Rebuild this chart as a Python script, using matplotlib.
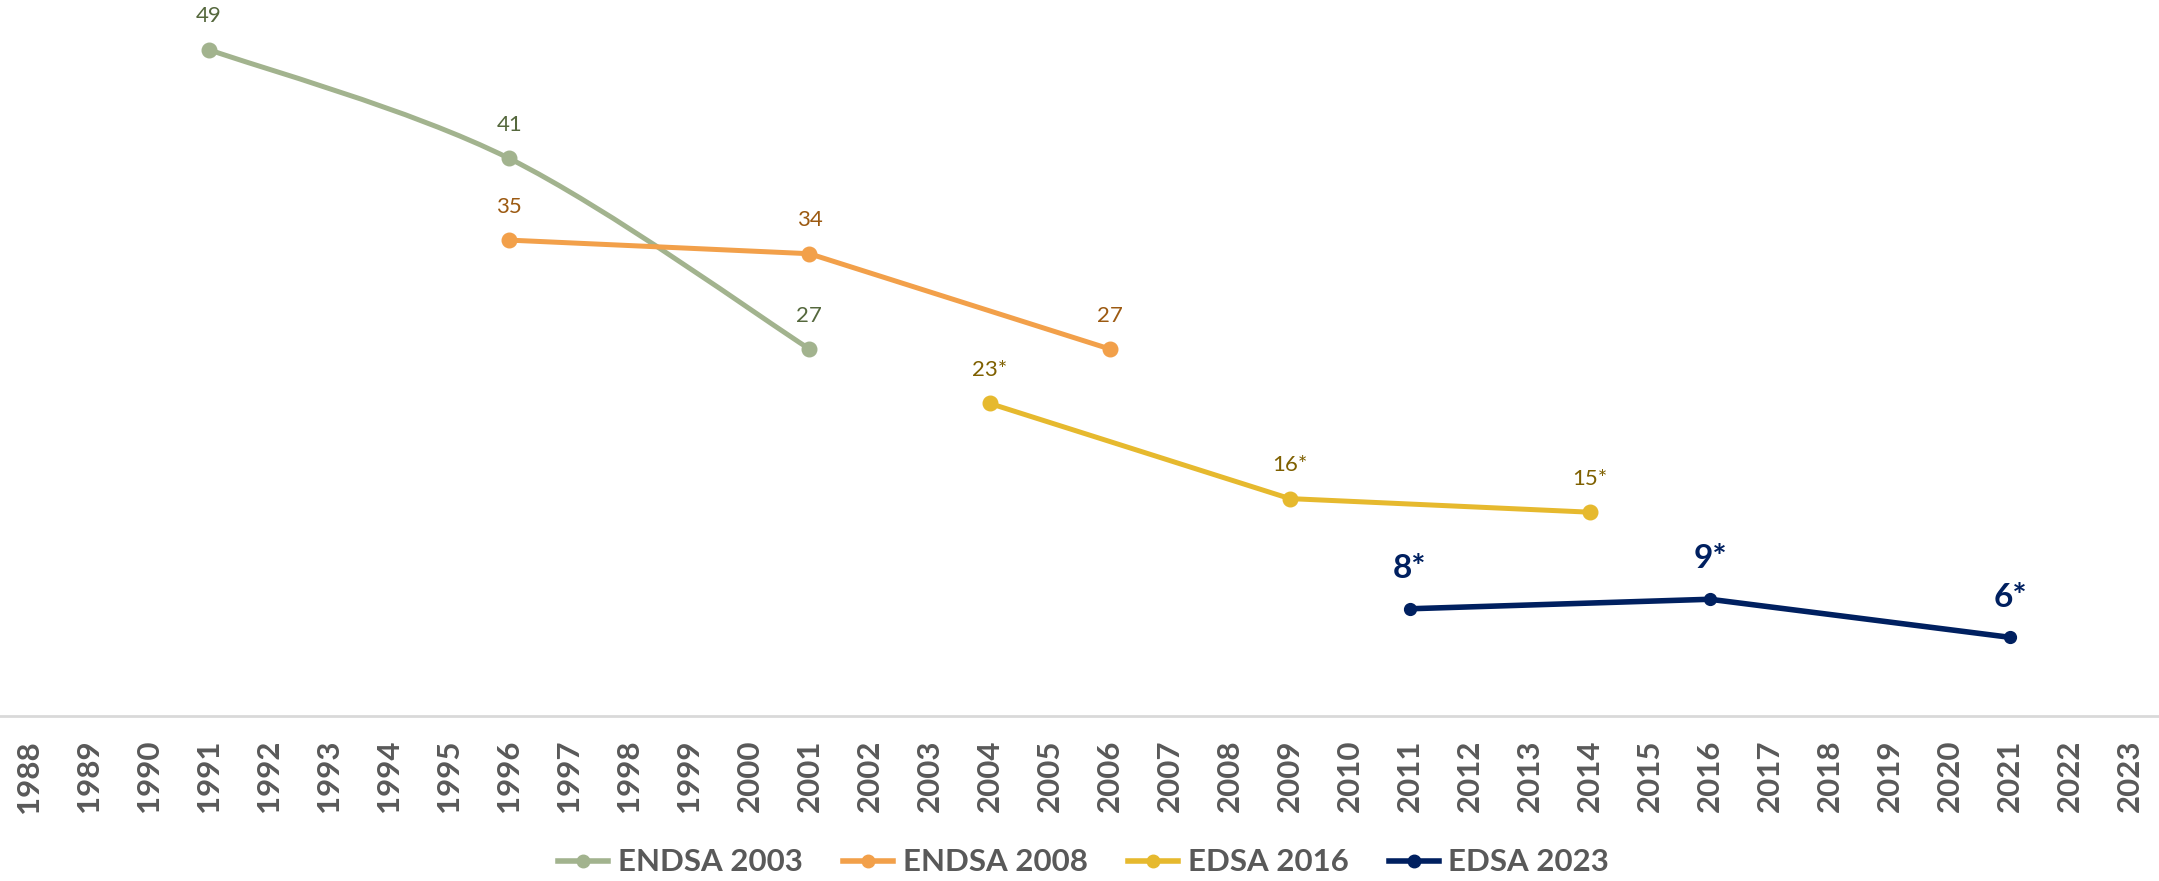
import matplotlib
matplotlib.use('Agg')
import matplotlib.pyplot as plt
from matplotlib.path import Path
from matplotlib.patches import PathPatch
from matplotlib.lines import Line2D

# Categorias do eixo x (anos)
YEARS = list(range(1988, 2024))

# Series (ano, valor, rotulo)
ENDSA_2003_X = [1991, 1996, 2001]
ENDSA_2003_Y = [49, 41, 27]
ENDSA_2003_LBL = ['49', '41', '27']

ENDSA_2008_X = [1996, 2001, 2006]
ENDSA_2008_Y = [35, 34, 27]
ENDSA_2008_LBL = ['35', '34', '27']

EDSA_2016_X = [2004, 2009, 2014]
EDSA_2016_Y = [23, 16, 15]
EDSA_2016_LBL = ['23*', '16*', '15*']

EDSA_2023_X = [2011, 2016, 2021]
EDSA_2023_Y = [7.9, 8.6, 5.8]
EDSA_2023_LBL = ['8*', '9*', '6*']

SERIES_NAMES = ['ENDSA 2003', 'ENDSA 2008', 'EDSA 2016', 'EDSA 2023']

C_GREEN, C_ORANGE, C_YELLOW, C_NAVY = '#A2B38E', '#F2A04A', '#E6B92E', '#002060'
GRAY = '#595959'
FONT = 'Lato'


def smooth_path(xs, ys):
    """Curva suavizada (bezier tipo Catmull-Rom, como o 'smooth line' do Excel)."""
    pts = list(zip(xs, ys))
    verts, codes = [pts[0]], [Path.MOVETO]
    for i in range(len(pts) - 1):
        p0 = pts[i - 1] if i > 0 else pts[i]
        p1, p2 = pts[i], pts[i + 1]
        p3 = pts[i + 2] if i + 2 < len(pts) else pts[i + 1]
        c1 = (p1[0] + (p2[0] - p0[0]) / 6, p1[1] + (p2[1] - p0[1]) / 6)
        c2 = (p2[0] - (p3[0] - p1[0]) / 6, p2[1] - (p3[1] - p1[1]) / 6)
        verts += [c1, c2, p2]
        codes += [Path.CURVE4] * 3
    return Path(verts, codes)


fig = plt.figure(figsize=(21.59, 8.81), dpi=100)
ax = fig.add_axes([0, 0.187, 1, 0.813])
ax.set_xlim(YEARS[0] - 0.483, YEARS[-1] + 0.48)
ax.set_ylim(0, 52.65)

# ENDSA 2003 (linha suavizada)
ax.add_patch(PathPatch(smooth_path(ENDSA_2003_X, ENDSA_2003_Y), facecolor='none',
                       edgecolor=C_GREEN, lw=3.6, capstyle='round', zorder=2))
ax.plot(ENDSA_2003_X, ENDSA_2003_Y, ls='none', marker='o', ms=10.5, color=C_GREEN, zorder=3)

ax.plot(ENDSA_2008_X, ENDSA_2008_Y, color=C_ORANGE, lw=3.6, marker='o', ms=10.5,
        solid_capstyle='round', zorder=2)
ax.plot(EDSA_2016_X, EDSA_2016_Y, color=C_YELLOW, lw=3.6, marker='o', ms=10.5,
        solid_capstyle='round', zorder=2)
ax.plot(EDSA_2023_X, EDSA_2023_Y, color=C_NAVY, lw=4.0, marker='o', ms=8.5,
        solid_capstyle='round', zorder=2)

# Rotulos de dados
for xs, ys, lbls, col, kw, off in [
    (ENDSA_2003_X, ENDSA_2003_Y, ENDSA_2003_LBL, '#55683D', dict(fontsize=16), 24),
    (ENDSA_2008_X, ENDSA_2008_Y, ENDSA_2008_LBL, '#9C5A12', dict(fontsize=16), 24),
    (EDSA_2016_X, EDSA_2016_Y, EDSA_2016_LBL, '#7F6000', dict(fontsize=16), 24),
    (EDSA_2023_X, EDSA_2023_Y, EDSA_2023_LBL, C_NAVY, dict(fontsize=24, fontweight='bold'), 29),
]:
    for x, y, s in zip(xs, ys, lbls):
        ax.annotate(s, (x, y), xytext=(0, off), textcoords='offset points',
                    ha='center', va='center', color=col, family=FONT, **kw)

# Eixos
for side in ['top', 'right', 'left']:
    ax.spines[side].set_visible(False)
ax.spines['bottom'].set_color('#D9D9D9')
ax.spines['bottom'].set_linewidth(2)
ax.set_yticks([])
ax.set_xticks(YEARS)
ax.set_xticklabels([str(y) for y in YEARS], rotation=90, family=FONT,
                   fontweight='bold', fontsize=22.5, color=GRAY)
ax.tick_params(axis='x', length=0, pad=17)

# Legenda
handles = [Line2D([], [], color=c, lw=4, marker='o', ms=9)
           for c in [C_GREEN, C_ORANGE, C_YELLOW, C_NAVY]]
fig.legend(handles, SERIES_NAMES, loc='center', bbox_to_anchor=(0.502, 0.021),
           ncol=4, frameon=False, handlelength=1.6, handletextpad=0.3,
           columnspacing=1.3, prop={'family': FONT, 'size': 22.5, 'weight': 'bold'},
           labelcolor=GRAY)

fig.savefig('out.png', dpi=100)
